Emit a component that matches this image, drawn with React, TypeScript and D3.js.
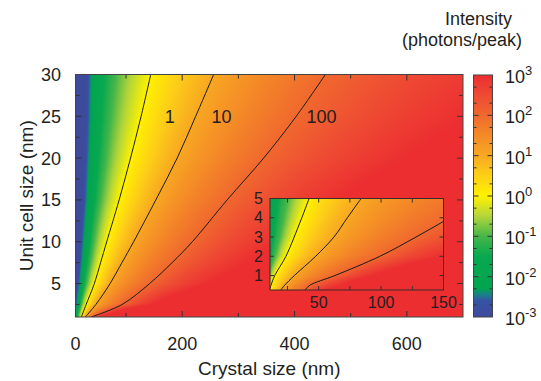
import React, { useMemo } from "react";
import * as d3 from "d3";

// log10(photons/peak) levels whose positions are tabulated below
const levels = [-3, -2, -1, 0, 1, 2, 3];

// Main panel: crystal size (nm) at which each level is reached, per unit cell size (nm)
const unitCells = [1, 2.5, 5, 7.5, 10, 15, 20, 25, 30];
const mainLevelM3 = [7, 9, 13, 16, 18, 22, 25, 27, 28];
const mainLevelM2 = [11, 15, 21, 25, 29, 36, 40, 43, 45];
const mainLevelM1 = [15, 21, 30, 37, 43, 55, 65, 74, 82];
const mainLevel0 = [20.5, 29, 43.6, 54.7, 65.6, 87.7, 108, 126.8, 144];
const mainLevel1 = [27.4, 46.3, 71.6, 92.7, 113.5, 153, 191, 224, 256];
const mainLevel2 = [38, 93, 142, 182, 218, 280, 345, 403, 455];
const mainLevel3 = [55, 150, 250, 320, 380, 480, 600, 710, 810];

// Inset panel: same idea, small crystals / small unit cells
const insetCells = [0.25, 0.5, 1, 2, 3, 4, 5];
const insetLevelM3 = [3, 3.5, 4, 5, 6, 6.5, 7];
const insetLevelM2 = [5, 5.5, 6.5, 8.5, 10, 11, 12];
const insetLevelM1 = [7, 8, 10, 15, 19, 22, 25];
const insetLevel0 = [10.5, 11.8, 14.8, 23.8, 30.4, 36.5, 42.3];
const insetLevel1 = [19.7, 22.8, 30.5, 47.6, 62.2, 73, 84];
const insetLevel2 = [39, 43, 63, 99, 128, 155, 181];
const insetLevel3 = [55, 70, 95, 150, 200, 250, 300];

const xTicks = [0, 200, 400, 600];
const xMinorTicks = [100, 300, 500];
const yTicks = [5, 10, 15, 20, 25, 30];
const yMinorTicks = [2.5, 7.5, 12.5, 17.5, 22.5, 27.5];
const insetXTicks = [50, 100, 150];
const insetXMinorTicks = [25, 75, 125];
const insetYTicks = [1, 2, 3, 4, 5];
const colorbarDecades = [-3, -2, -1, 0, 1, 2, 3];

const contourLabels = [
  { text: "1", size: 178, cell: 25 },
  { text: "10", size: 270, cell: 25 },
  { text: "100", size: 448, cell: 25 },
];

const colorValues = [-3, -2.6, -2.45, -2.3, -1.5, -1, -0.5, 0, 0.5, 1, 1.5, 2, 2.5, 3];
const colorHexes = [
  "#3e4a9c", "#3553a4", "#1b7f8a", "#00a54f", "#08a84f", "#45b649", "#b3d53a",
  "#fff200", "#fdd017", "#f8a822", "#f48a27", "#f0692e", "#ee4a33", "#ec2e31",
];

const FONT = "Liberation Sans, Arial, Helvetica, sans-serif";
const INK = "#231f20";

const color = d3
  .scaleLinear<string>()
  .domain(colorValues)
  .range(colorHexes)
  .interpolate(d3.interpolateRgb)
  .clamp(true);

function makeField(cells: number[], table: number[][]) {
  const rows = table.map((arr) =>
    d3.scaleLinear().domain(cells).range(arr.map(Math.log10))
  );
  return (size: number, cell: number) => {
    const pos = rows.map((s) => s(cell));
    const lx = Math.log10(size);
    if (lx <= pos[0]) return levels[0];
    for (let k = 0; k < pos.length - 1; k++) {
      if (lx <= pos[k + 1]) return levels[k] + (lx - pos[k]) / (pos[k + 1] - pos[k]);
    }
    return levels[levels.length - 1];
  };
}

function renderField(
  field: (s: number, c: number) => number,
  xs: d3.ScaleLinear<number, number>,
  ys: d3.ScaleLinear<number, number>
) {
  const [x0, x1] = xs.range();
  const [y1, y0] = ys.range();
  const w = Math.round(x1 - x0);
  const h = Math.round(y1 - y0);
  const canvas = document.createElement("canvas");
  canvas.width = w;
  canvas.height = h;
  const ctx = canvas.getContext("2d")!;
  const img = ctx.createImageData(w, h);
  const lut = d3.range(601).map((i) => d3.rgb(color(-3 + i / 100)));
  for (let j = 0; j < h; j++) {
    const cell = ys.invert(y0 + j + 0.5);
    for (let i = 0; i < w; i++) {
      const v = field(xs.invert(x0 + i + 0.5), cell);
      const c = lut[Math.max(0, Math.min(600, Math.round((v + 3) * 100)))];
      const p = (j * w + i) * 4;
      img.data[p] = c.r;
      img.data[p + 1] = c.g;
      img.data[p + 2] = c.b;
      img.data[p + 3] = 255;
    }
  }
  ctx.putImageData(img, 0, 0);
  return canvas.toDataURL();
}

const mainTable = [mainLevelM3, mainLevelM2, mainLevelM1, mainLevel0, mainLevel1, mainLevel2, mainLevel3];
const insetTable = [insetLevelM3, insetLevelM2, insetLevelM1, insetLevel0, insetLevel1, insetLevel2, insetLevel3];

export default function App() {
  const W = 541;
  const H = 381;

  const x = d3.scaleLinear().domain([10, 700]).range([75.5, 463]);
  const y = d3.scaleLinear().domain([1, 30]).range([317, 74.5]);
  const ix = d3.scaleLinear().domain([11, 150]).range([270, 443.5]);
  const iy = d3.scaleLinear().domain([0.25, 5]).range([290, 198.5]);
  const cb = d3.scaleLinear().domain([-3, 3]).range([317, 75]);
  const cbLeft = 473.5;
  const cbRight = 492.5;

  const mainImg = useMemo(() => renderField(makeField(unitCells, mainTable), x, y), []);
  const insetImg = useMemo(() => renderField(makeField(insetCells, insetTable), ix, iy), []);

  const line = (xs: d3.ScaleLinear<number, number>, ys: d3.ScaleLinear<number, number>, cells: number[]) =>
    d3
      .line<number>()
      .x((d) => xs(d))
      .y((d, i) => ys(cells[i]))
      .curve(d3.curveCatmullRom.alpha(0.5));

  const mainLine = line(x, y, unitCells);
  const insetLine = line(ix, iy, insetCells);

  const [mL, mR] = x.range();
  const [mB, mT] = y.range();
  const [iL, iR] = ix.range();
  const [iB, iT] = iy.range();

  const minorDecade = colorbarDecades
    .slice(0, -1)
    .flatMap((d) => [d + Math.log10(2), d + Math.log10(5)]);

  return (
    <svg
      width={W}
      height={H}
      style={{ position: "fixed", left: 0, top: 0, background: "#fff" }}
      fontFamily={FONT}
    >
      <defs>
        <clipPath id="mainClip">
          <rect x={mL} y={mT} width={mR - mL} height={mB - mT} />
        </clipPath>
        <clipPath id="insetClip">
          <rect x={iL} y={iT} width={iR - iL} height={iB - iT} />
        </clipPath>
        <linearGradient id="cbGrad" x1="0" y1="1" x2="0" y2="0">
          {colorValues.map((v, i) => (
            <stop key={i} offset={(v + 3) / 6} stopColor={colorHexes[i]} />
          ))}
        </linearGradient>
      </defs>

      {/* main heat map */}
      <image href={mainImg} x={mL} y={mT} width={mR - mL} height={mB - mT} preserveAspectRatio="none" />
      <g clipPath="url(#mainClip)" fill="none" stroke="#1a1a1a" strokeWidth={1}>
        {[mainLevel0, mainLevel1, mainLevel2].map((arr, i) => (
          <path key={i} d={mainLine(arr) || ""} />
        ))}
      </g>
      {contourLabels.map((l) => (
        <text key={l.text} x={x(l.size)} y={y(l.cell) + 6.5} textAnchor="middle" fontSize={18} fill={INK}>
          {l.text}
        </text>
      ))}

      {/* main ticks */}
      <g stroke="#333" strokeWidth={1}>
        {xTicks.filter((t) => t > 10).map((t) => (
          <g key={t}>
            <line x1={x(t)} x2={x(t)} y1={mB} y2={mB - 6} />
            <line x1={x(t)} x2={x(t)} y1={mT} y2={mT + 6} />
          </g>
        ))}
        {xMinorTicks.map((t) => (
          <g key={t}>
            <line x1={x(t)} x2={x(t)} y1={mB} y2={mB - 4} />
            <line x1={x(t)} x2={x(t)} y1={mT} y2={mT + 4} />
          </g>
        ))}
        {yTicks.filter((t) => t < 30).map((t) => (
          <g key={t}>
            <line x1={mL} x2={mL + 6} y1={y(t)} y2={y(t)} />
            <line x1={mR} x2={mR - 6} y1={y(t)} y2={y(t)} />
          </g>
        ))}
        {yMinorTicks.map((t) => (
          <g key={t}>
            <line x1={mL} x2={mL + 4} y1={y(t)} y2={y(t)} />
            <line x1={mR} x2={mR - 4} y1={y(t)} y2={y(t)} />
          </g>
        ))}
      </g>
      <rect x={mL} y={mT} width={mR - mL} height={mB - mT} fill="none" stroke="#444" strokeWidth={1} />

      {/* main tick labels */}
      {xTicks.map((t) => (
        <text key={t} x={Math.max(x(t), mL)} y={350} textAnchor="middle" fontSize={18} fill={INK}>
          {t}
        </text>
      ))}
      {yTicks.map((t) => (
        <text key={t} x={61} y={y(t) + 6.5} textAnchor="end" fontSize={18} fill={INK}>
          {t}
        </text>
      ))}
      <text x={(mL + mR) / 2} y={375} textAnchor="middle" fontSize={19} fill={INK}>
        Crystal size (nm)
      </text>
      <text
        transform={`translate(33,${(mT + mB) / 2}) rotate(-90)`}
        textAnchor="middle"
        fontSize={19}
        fill={INK}
      >
        Unit cell size (nm)
      </text>

      {/* inset */}
      <image href={insetImg} x={iL} y={iT} width={iR - iL} height={iB - iT} preserveAspectRatio="none" />
      <g clipPath="url(#insetClip)" fill="none" stroke="#1a1a1a" strokeWidth={1}>
        {[insetLevel0, insetLevel1, insetLevel2].map((arr, i) => (
          <path key={i} d={insetLine(arr) || ""} />
        ))}
      </g>
      <g stroke="#333" strokeWidth={1}>
        {insetXTicks.concat(insetXMinorTicks).filter((t) => t < 150).map((t) => (
          <g key={t}>
            <line x1={ix(t)} x2={ix(t)} y1={iB} y2={iB - 4} />
            <line x1={ix(t)} x2={ix(t)} y1={iT} y2={iT + 4} />
          </g>
        ))}
        {insetYTicks.filter((t) => t < 5).map((t) => (
          <g key={t}>
            <line x1={iL} x2={iL + 4} y1={iy(t)} y2={iy(t)} />
            <line x1={iR} x2={iR - 4} y1={iy(t)} y2={iy(t)} />
          </g>
        ))}
      </g>
      <rect x={iL} y={iT} width={iR - iL} height={iB - iT} fill="none" stroke="#3a2a2a" strokeWidth={1} />
      {insetXTicks.map((t) => (
        <text key={t} x={ix(t)} y={308} textAnchor="middle" fontSize={16} fill={INK}>
          {t}
        </text>
      ))}
      {insetYTicks.map((t) => (
        <text key={t} x={263} y={iy(t) + 5.5} textAnchor="end" fontSize={16} fill={INK}>
          {t}
        </text>
      ))}

      {/* colour bar */}
      <rect x={cbLeft} y={cb(3)} width={cbRight - cbLeft} height={cb(-3) - cb(3)} fill="url(#cbGrad)" />
      <g stroke="#333" strokeWidth={1}>
        {colorbarDecades.slice(1, -1).map((d) => (
          <g key={d}>
            <line x1={cbLeft} x2={cbLeft + 5} y1={cb(d)} y2={cb(d)} />
            <line x1={cbRight} x2={cbRight - 5} y1={cb(d)} y2={cb(d)} />
          </g>
        ))}
        {minorDecade.map((d, i) => (
          <g key={i}>
            <line x1={cbLeft} x2={cbLeft + 3} y1={cb(d)} y2={cb(d)} />
            <line x1={cbRight} x2={cbRight - 3} y1={cb(d)} y2={cb(d)} />
          </g>
        ))}
      </g>
      <rect x={cbLeft} y={cb(3)} width={cbRight - cbLeft} height={cb(-3) - cb(3)} fill="none" stroke="#444" strokeWidth={1} />
      {colorbarDecades.map((d) => (
        <text key={d} x={505} y={cb(d) + 8} fontSize={18} fill={INK}>
          10
          <tspan fontSize={13} dy={-8}>
            {d}
          </tspan>
        </text>
      ))}
      <text x={512} y={25} textAnchor="end" fontSize={18} fill={INK}>
        Intensity
      </text>
      <text x={522} y={46} textAnchor="end" fontSize={18} fill={INK}>
        (photons/peak)
      </text>
    </svg>
  );
}
